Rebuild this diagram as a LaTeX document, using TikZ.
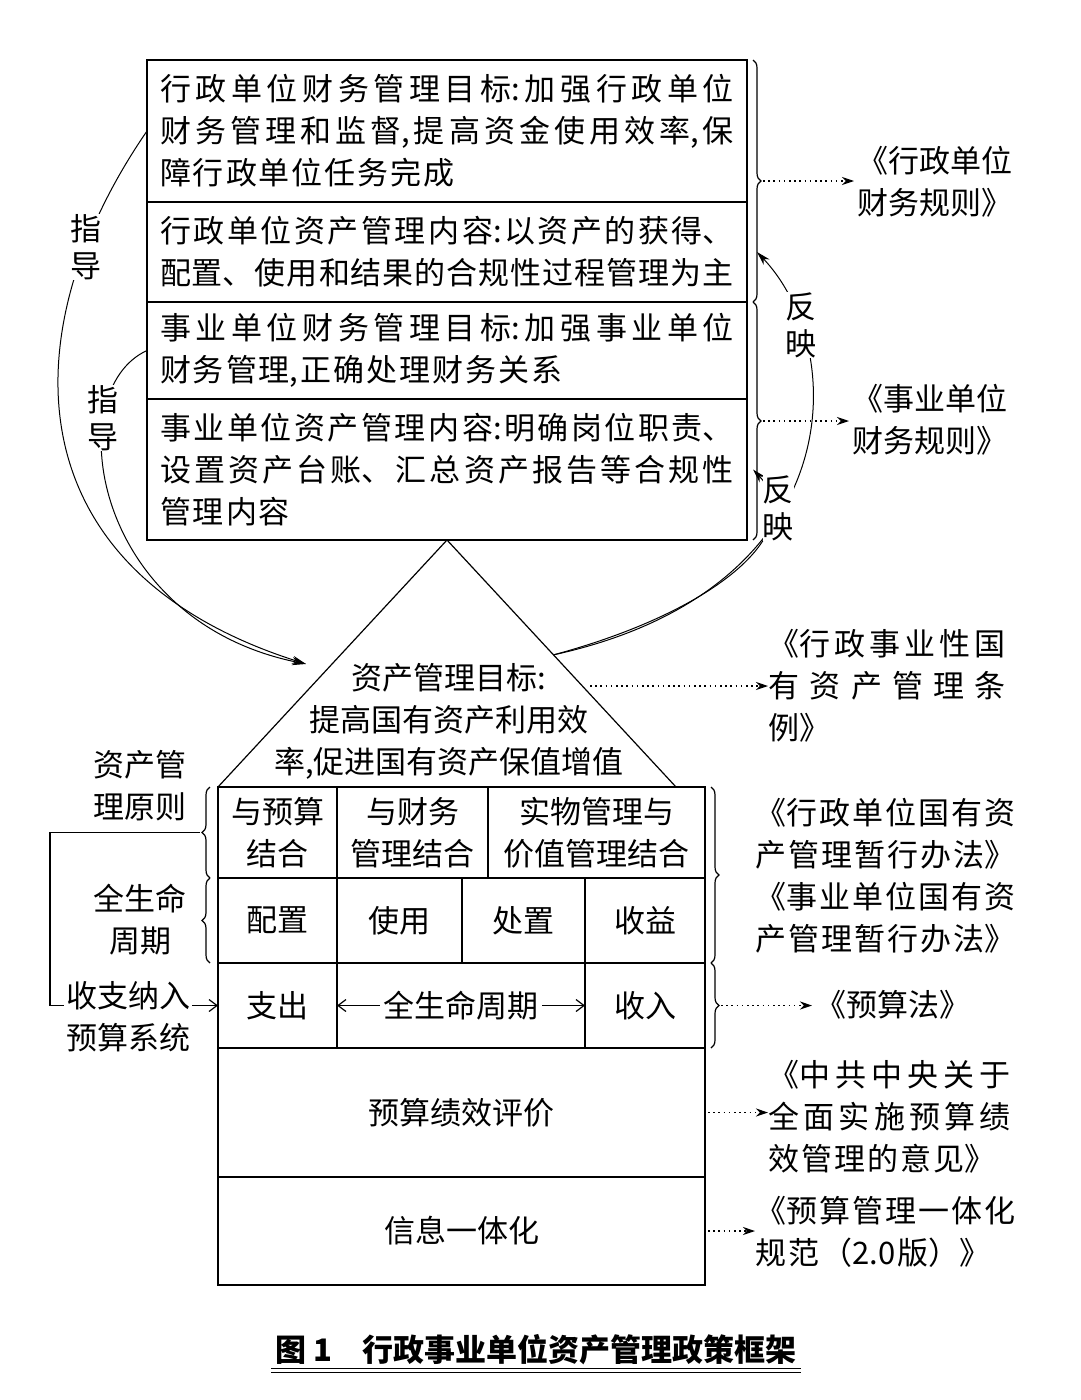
\documentclass[tikz,border=0pt]{standalone}
\usepackage{fontspec}
\setmainfont{Noto Sans CJK SC}
\usetikzlibrary{positioning,calc,arrows.meta,decorations.pathreplacing}
\XeTeXlinebreaklocale "zh"
\XeTeXlinebreakskip=2pt plus 12pt minus 2pt
\linepenalty=2000
\newcommand\bodyfont{\fontsize{31}{42}\selectfont}

\begin{document}
\begin{tikzpicture}[
    x=1pt, y=-1pt,
    line width=1.2pt,
    font=\bodyfont,
    rowbox/.style={draw, anchor=north west, text width=574pt, inner xsep=13pt, inner ysep=0pt, outer sep=0pt, align=justify},
    cell/.style={draw, inner sep=0pt, outer sep=0pt, align=center},
    justlab/.style={anchor=west, text width=#1, align=justify, inner sep=0pt},
    lab/.style={fill=white, inner sep=0pt, align=center, font=\fontsize{31}{37}\selectfont},
    brace/.style={decorate, decoration={brace, amplitude=8pt}},
    dotarrow/.style={-{Stealth[length=12pt,width=8pt]}, dash pattern=on 1.6pt off 3.6pt},
    curvearrow/.style={-{Stealth[length=14pt,width=8pt]}, line width=1pt},
    barb/.style={-{Straight Barb[length=8pt,width=12pt]}}
]
    \fill[white] (0,0) rectangle (1081,1400);
    \useasboundingbox (0,0) rectangle (1081,1400);

    \node[rowbox, minimum height=142pt] (r1) at (147,60) {行政单位财务管理目标:加强行政单位\linebreak 财务管理和监督,提高资金使用效率,保\linebreak 障行政单位任务完成};
    \node[rowbox, minimum height=100pt, below=0pt of r1] (r2) {行政单位资产管理内容:以资产的获得、\linebreak 配置、使用和结果的合规性过程管理为主};
    \node[rowbox, minimum height=97pt, below=0pt of r2] (r3) {事业单位财务管理目标:加强事业单位\linebreak 财务管理,正确处理财务关系};
    \node[rowbox, minimum height=141pt, below=0pt of r3] (r4) {事业单位资产管理内容:明确岗位职责、\linebreak 设置资产台账、汇总资产报告等合规性\linebreak 管理内容};

    \node[cell, minimum width=119pt, minimum height=91pt, anchor=north west] (a1) at (218,787) {与预算\\结合};
    \node[cell, minimum width=151pt, minimum height=91pt, right=0pt of a1] (a2) {与财务\\管理结合};
    \node[cell, minimum width=217pt, minimum height=91pt, right=0pt of a2] (a3) {实物管理与\\价值管理结合};
    \node[cell, minimum width=119pt, minimum height=85pt, below=0pt of a1] (b1) {配置};
    \node[cell, minimum width=125pt, minimum height=85pt, right=0pt of b1] (b2) {使用};
    \node[cell, minimum width=123pt, minimum height=85pt, right=0pt of b2] (b3) {处置};
    \node[cell, minimum width=120pt, minimum height=85pt, right=0pt of b3] (b4) {收益};
    \node[cell, minimum width=119pt, minimum height=85pt, below=0pt of b1] (c1) {支出};
    \node[cell, draw=none, minimum width=248pt, minimum height=85pt, right=0pt of c1] (c2) {};
    \node[cell, minimum width=120pt, minimum height=85pt, right=0pt of c2] (c3) {收入};
    \node[cell, minimum width=487pt, minimum height=129pt, anchor=north west] (d) at (c1.south west) {预算绩效评价};
    \node[cell, minimum width=487pt, minimum height=108pt, below=0pt of d] (e) {信息一体化};

    \node (life) at (c2) {全生命周期};
    \draw[barb] (life.west) -- (c1.east);
    \draw[barb] (life.east) -- (c3.west);

    \coordinate (roofR) at (676,787);
    \draw (a1.north west) -- (r4.south) -- (roofR);
    \node[align=center] (goal) at (449,721) {资产管理目标:\\提高国有资产利用效\\率,促进国有资产保值增值};

    \draw[brace] ([xshift=6pt]r1.north east) -- ([xshift=6pt]r2.south east);
    \draw[brace] ([xshift=6pt]r3.north east) -- ([xshift=6pt]r4.south east);
    \draw[brace] ([xshift=6pt]a3.north east) -- ([xshift=6pt]b4.south east);
    \draw[brace] ([xshift=6pt]c3.north east) -- ([xshift=6pt]c3.south east);
    \draw[brace] ([xshift=-8pt]a1.south west) -- ([xshift=-8pt]a1.north west);
    \draw[brace] ([xshift=-8pt]b1.south west) -- ([xshift=-8pt]b1.north west);
    \coordinate (bt1) at ($([xshift=16pt]r1.north east)!0.5!([xshift=16pt]r2.south east)$);
    \coordinate (bt2) at ($([xshift=16pt]r3.north east)!0.5!([xshift=16pt]r4.south east)$);
    \coordinate (bt4) at ([xshift=16pt]c3.east);
    \coordinate (ptip) at ([xshift=-18pt]a1.west);

    \node[anchor=west, align=left] (law1) at (854,182) {《行政单位\\财务规则》};
    \node[anchor=west, align=left] (law2) at (849,420) {《事业单位\\财务规则》};
    \node[justlab=237pt] (law3) at (768,686) {《行政事业性国\linebreak 有资产管理条\linebreak 例》};
    \node[justlab=260pt] (law4) at (755,876) {《行政单位国有资\linebreak 产管理暂行办法》\linebreak 《事业单位国有资\linebreak 产管理暂行办法》};
    \node[anchor=west] (law5) at (812,1005) {《预算法》};
    \node[justlab=242pt] (law6) at (768,1117) {《中共中央关于\linebreak 全面实施预算绩\linebreak 效管理的意见》};
    \node[justlab=260pt] (law7) at (755,1232) {《预算管理一体化\linebreak 规范（2.0版）》};

    \coordinate (roofout) at (590,686);
    \draw[dotarrow] (bt1) -- (bt1 -| law1.west);
    \draw[dotarrow] (bt2) -- (bt2 -| law2.west);
    \draw[dotarrow] (roofout) -- (roofout -| law3.west);
    \draw[dotarrow] (bt4) -- (bt4 -| law5.west);
    \draw[dotarrow] ([xshift=3pt]d.east) -- (d.east -| law6.west);
    \draw[dotarrow] ([xshift=3pt]e.east) -- (e.east -| law7.west);

    \node[align=center] (prin) at (140,786) {资产管\\理原则};
    \node[align=center] (cycle) at (140,920) {全生命\\周期};
    \draw[barb] (ptip) -- ++(-150,0) |- (c1.west);
    \node[align=center, fill=white, inner sep=2pt] (budget) at (128,1017) {收支纳入\\预算系统};

    \coordinate (guidetip) at (306,664);
    \coordinate (reflS) at ($(r4.south)!0.465!(roofR)$);
    \draw[curvearrow] (r1.west) .. controls (10,330) and (10,570) .. (guidetip);
    \draw[curvearrow] (r3.west) .. controls (60,390) and (90,620) .. (guidetip);
    \draw[curvearrow] (reflS) .. controls (850,590) and (850,350) .. ([xshift=10pt]r2.east);
    \draw[curvearrow] (reflS) .. controls (720,610) and (810,530) .. ([xshift=6pt]r4.east);
    \node[lab] (g1) at (86,247) {指\\导};
    \node[lab] (g2) at (103,418) {指\\导};
    \node[lab] (f1) at (801,325) {反\\映};
    \node[lab] (f2) at (778,508) {反\\映};

    \node[font=\bfseries\fontsize{31}{40}\selectfont] (cap) at (536,1350) {图 1\quad 行政事业单位资产管理政策框架};
    \draw[line width=0.8pt] ([yshift=1pt]cap.south west) -- ([yshift=1pt]cap.south east);
    \draw[line width=0.8pt] ([yshift=-3pt]cap.south west) -- ([yshift=-3pt]cap.south east);
\end{tikzpicture}
\end{document}
